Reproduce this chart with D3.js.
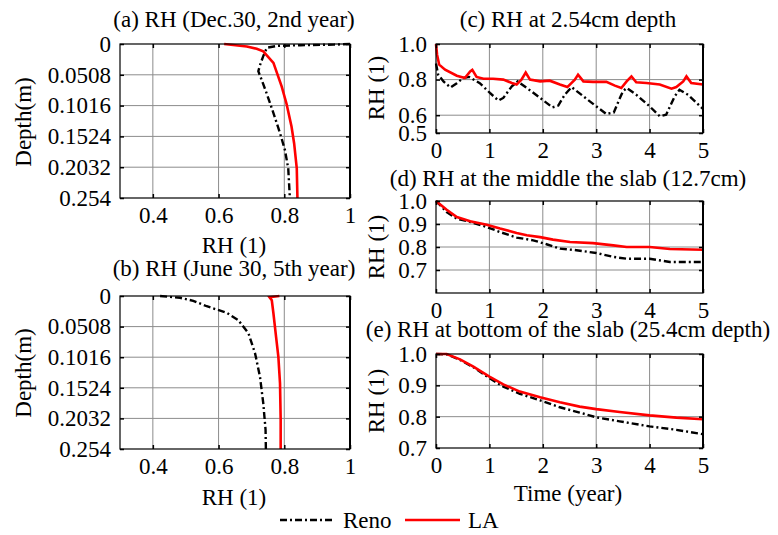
<!DOCTYPE html>
<html><head><meta charset="utf-8">
<script src="https://cdn.jsdelivr.net/npm/d3@7"></script>
<style>
body{margin:0;background:#fff;}
</style></head>
<body><svg id="c" width="778" height="535"></svg>
<script>
// ---------- data ----------
// Profiles: [RH, depth(m)]
const aReno = [[1.0,0],[0.95,0.001],[0.85,0.002],[0.78,0.003],[0.748,0.006],[0.742,0.012],[0.736,0.020],[0.726,0.035],[0.721,0.045],[0.731,0.059],[0.746,0.081],[0.767,0.114],[0.787,0.147],[0.802,0.175],[0.812,0.205],[0.817,0.254]];
const aLA   = [[0.617,0],[0.686,0.004],[0.716,0.008],[0.736,0.012],[0.767,0.031],[0.792,0.070],[0.807,0.099],[0.822,0.136],[0.830,0.164],[0.838,0.205],[0.840,0.254]];
const bReno = [[0.422,0],[0.483,0.003],[0.523,0.008],[0.564,0.017],[0.625,0.028],[0.660,0.040],[0.691,0.062],[0.711,0.095],[0.726,0.134],[0.736,0.178],[0.743,0.222],[0.744,0.254]];
const bLA   = [[0.785,0],[0.755,0.002],[0.762,0.007],[0.767,0.029],[0.775,0.068],[0.782,0.101],[0.787,0.145],[0.789,0.206],[0.789,0.254]];
// Time series: [year, RH]
const cLA   = [[0,1.0],[0.02,0.94],[0.06,0.884],[0.17,0.856],[0.39,0.822],[0.54,0.809],[0.64,0.846],[0.68,0.855],[0.76,0.815],[0.89,0.805],[1.07,0.805],[1.26,0.8],[1.42,0.781],[1.51,0.772],[1.6,0.8],[1.68,0.84],[1.76,0.8],[1.95,0.79],[2.13,0.794],[2.32,0.772],[2.46,0.758],[2.6,0.8],[2.66,0.828],[2.76,0.79],[2.94,0.787],[3.19,0.787],[3.35,0.766],[3.47,0.753],[3.57,0.79],[3.66,0.818],[3.75,0.785],[3.94,0.781],[4.19,0.772],[4.41,0.749],[4.5,0.758],[4.63,0.79],[4.69,0.818],[4.78,0.781],[5.0,0.772]];
const cReno = [[0,0.89],[0.04,0.828],[0.14,0.79],[0.27,0.756],[0.39,0.78],[0.51,0.809],[0.62,0.815],[0.82,0.78],[1.01,0.725],[1.17,0.682],[1.26,0.697],[1.42,0.762],[1.53,0.79],[1.7,0.753],[1.95,0.697],[2.18,0.644],[2.29,0.654],[2.41,0.715],[2.54,0.758],[2.76,0.706],[3.0,0.65],[3.19,0.607],[3.33,0.615],[3.42,0.68],[3.5,0.734],[3.57,0.753],[3.75,0.715],[4.0,0.65],[4.19,0.594],[4.31,0.603],[4.47,0.706],[4.56,0.743],[4.72,0.715],[5.0,0.635]];
const dLA   = [[0,1.0],[0.2,0.962],[0.39,0.93],[0.64,0.912],[0.95,0.897],[1.2,0.88],[1.51,0.861],[1.7,0.851],[1.95,0.843],[2.19,0.832],[2.51,0.822],[2.94,0.817],[3.32,0.807],[3.57,0.8],[4.0,0.8],[4.38,0.791],[5.0,0.788]];
const dReno = [[0,1.0],[0.2,0.952],[0.39,0.923],[0.64,0.909],[0.95,0.887],[1.2,0.865],[1.51,0.841],[1.82,0.829],[2.07,0.812],[2.32,0.793],[2.63,0.786],[3.0,0.774],[3.32,0.757],[3.57,0.749],[4.0,0.749],[4.38,0.735],[5.0,0.735]];
const eLA   = [[0,1.0],[0.2,1.0],[0.45,0.983],[0.7,0.96],[1.0,0.928],[1.26,0.903],[1.57,0.88],[1.95,0.862],[2.32,0.846],[2.69,0.832],[3.0,0.824],[3.44,0.815],[4.0,0.804],[4.5,0.797],[5.0,0.792]];
const eReno = [[0,1.0],[0.2,0.999],[0.45,0.981],[0.7,0.958],[1.0,0.923],[1.26,0.896],[1.57,0.873],[1.95,0.852],[2.32,0.83],[2.69,0.813],[3.0,0.798],[3.44,0.785],[4.0,0.769],[4.5,0.758],[5.0,0.744]];

const depthTicks = [0,0.0508,0.1016,0.1524,0.2032,0.254];
const depthLabels = ["0","0.0508","0.1016","0.1524","0.2032","0.254"];
const rhTicks = [0.4,0.6,0.8,1];
const rhLabels = ["0.4","0.6","0.8","1"];
const yearTicks = [0,1,2,3,4,5];
const cTicks = [0.5,0.6,0.8,1.0], cLabels = ["0.5","0.6","0.8","1.0"];
const dTicks = [0.7,0.8,0.9,1.0], dLabels = ["0.7","0.8","0.9","1.0"];
const eTicks = [0.7,0.8,0.9,1.0], eLabels = ["0.7","0.8","0.9","1.0"];
const titles = ["(a) RH (Dec.30, 2nd year)","(b) RH (June 30, 5th year)","(c) RH at 2.54cm depth","(d) RH at the middle the slab (12.7cm)","(e) RH at bottom of the slab (25.4cm depth)"];
const seriesNames = ["Reno","LA"];

// ---------- drawing ----------
const svg = d3.select("#c");
const FS = 23;
const FONT = "Liberation Serif, Times New Roman, serif";
const RED = "#ff0000";
const DASH = "7,3,2,3";

function txt(sel){ return sel.attr("font-family",FONT).attr("font-size",FS).attr("fill","#000"); }

function panel(o){
  const g = svg.append("g");
  const x = d3.scaleLinear().domain(o.xd).range([o.l,o.r]);
  const y = d3.scaleLinear().domain(o.yd).range(o.yflip ? [o.t,o.b] : [o.b,o.t]);
  g.selectAll(".gx").data(o.xgrid).join("line")
    .attr("x1",d=>x(d)).attr("x2",d=>x(d)).attr("y1",o.t).attr("y2",o.b)
    .attr("stroke","#8c8c8c").attr("stroke-width",1);
  g.selectAll(".gy").data(o.ygrid).join("line")
    .attr("y1",d=>y(d)).attr("y2",d=>y(d)).attr("x1",o.l).attr("x2",o.r)
    .attr("stroke","#8c8c8c").attr("stroke-width",1);
  const ln = d3.line().x(d=>x(o.px(d))).y(d=>y(o.py(d)));
  g.append("path").datum(o.reno).attr("d",ln).attr("fill","none")
    .attr("stroke","#000").attr("stroke-width",2.4).attr("stroke-dasharray",DASH);
  g.append("path").datum(o.la).attr("d",ln).attr("fill","none")
    .attr("stroke",RED).attr("stroke-width",2.6);
  g.append("rect").attr("x",o.l).attr("y",o.t).attr("width",o.r-o.l).attr("height",o.b-o.t)
    .attr("fill","none").attr("stroke","#000").attr("stroke-width",1.2);
  g.append("line").attr("x1",o.r).attr("x2",o.r).attr("y1",o.t).attr("y2",o.b).attr("stroke","#000").attr("stroke-width",2);
  const ax = g.append("g").attr("transform",`translate(0,${o.b})`)
    .call(d3.axisBottom(x).tickValues(o.xt).tickFormat((d,i)=>o.xl[i]).tickSize(-4).tickPadding(6));
  const ay = g.append("g").attr("transform",`translate(${o.l},0)`)
    .call(d3.axisLeft(y).tickValues(o.yt).tickFormat((d,i)=>o.yl[i]).tickSize(-4).tickPadding(9));
  const axt = g.append("g").attr("transform",`translate(0,${o.t})`)
    .call(d3.axisTop(x).tickValues(o.xt).tickFormat("").tickSize(-4));
  const ayr = g.append("g").attr("transform",`translate(${o.r},0)`)
    .call(d3.axisRight(y).tickValues(o.yt).tickFormat("").tickSize(-4));
  [ax,ay,axt,ayr].forEach(a=>{
    a.attr("font-family",FONT).attr("font-size",FS);
    a.select(".domain").remove();
    a.selectAll(".tick line").attr("stroke","#000").attr("stroke-width",1.5);
    a.selectAll("text").attr("fill","#000");
  });
  ax.selectAll("text").attr("dy","19px");
  txt(g.append("text")).attr("x",o.tx).attr("y",o.ty).attr("text-anchor","middle").text(o.title);
  if(o.xlab) txt(g.append("text")).attr("x",o.xlx).attr("y",o.xly).attr("text-anchor","middle").text(o.xlab);
  txt(g.append("text")).attr("transform",`translate(${o.ylx},${o.yly}) rotate(-90)`).attr("text-anchor","middle").text(o.ylab);
}

const prof = {xd:[0.3,1], yd:[0,0.254], yflip:true, l:120, r:350, xgrid:[0.4,0.6,0.8], ygrid:depthTicks.slice(1,-1),
  xt:rhTicks, xl:rhLabels, yt:depthTicks, yl:depthLabels, px:d=>d[0], py:d=>d[1], ylab:"Depth(m)", ylx:31, xlab:"RH (1)", xlx:234, tx:234};
panel(Object.assign({},prof,{t:44,b:198,reno:aReno,la:aLA,title:titles[0],ty:27,yly:122,xly:253}));
panel(Object.assign({},prof,{t:296,b:449,reno:bReno,la:bLA,title:titles[1],ty:276,yly:373,xly:505}));

const ts = {xd:[0,5], l:436, r:703, xgrid:[1,2,3,4], xt:yearTicks, xl:yearTicks.map(String), px:d=>d[0], py:d=>d[1], ylab:"RH (1)", ylx:384, tx:568};
panel(Object.assign({},ts,{yd:[0.5,1.0],t:44,b:133,ygrid:[0.6,0.8],yt:cTicks,yl:cLabels,reno:cReno,la:cLA,title:titles[2],ty:27,yly:88}));
panel(Object.assign({},ts,{yd:[0.6,1.0],t:201,b:293,ygrid:[0.7,0.8,0.9],yt:dTicks,yl:dLabels,reno:dReno,la:dLA,title:titles[3],ty:186,yly:247}));
panel(Object.assign({},ts,{yd:[0.7,1.0],t:354,b:448,ygrid:[0.8,0.9],yt:eTicks,yl:eLabels,reno:eReno,la:eLA,title:titles[4],ty:337,yly:401,xlab:"Time (year)",xlx:568,xly:501}));

const lg = svg.append("g");
const legendItems = [{name:seriesNames[0],x1:280,x2:335,tx:343,dash:DASH,col:"#000"},{name:seriesNames[1],x1:405,x2:460,tx:468,dash:null,col:RED}];
legendItems.forEach(it=>{
  lg.append("line").attr("x1",it.x1).attr("x2",it.x2).attr("y1",520).attr("y2",520)
    .attr("stroke",it.col).attr("stroke-width",2.5).attr("stroke-dasharray",it.dash);
  txt(lg.append("text")).attr("x",it.tx).attr("y",528).text(it.name);
});
</script></body></html>
